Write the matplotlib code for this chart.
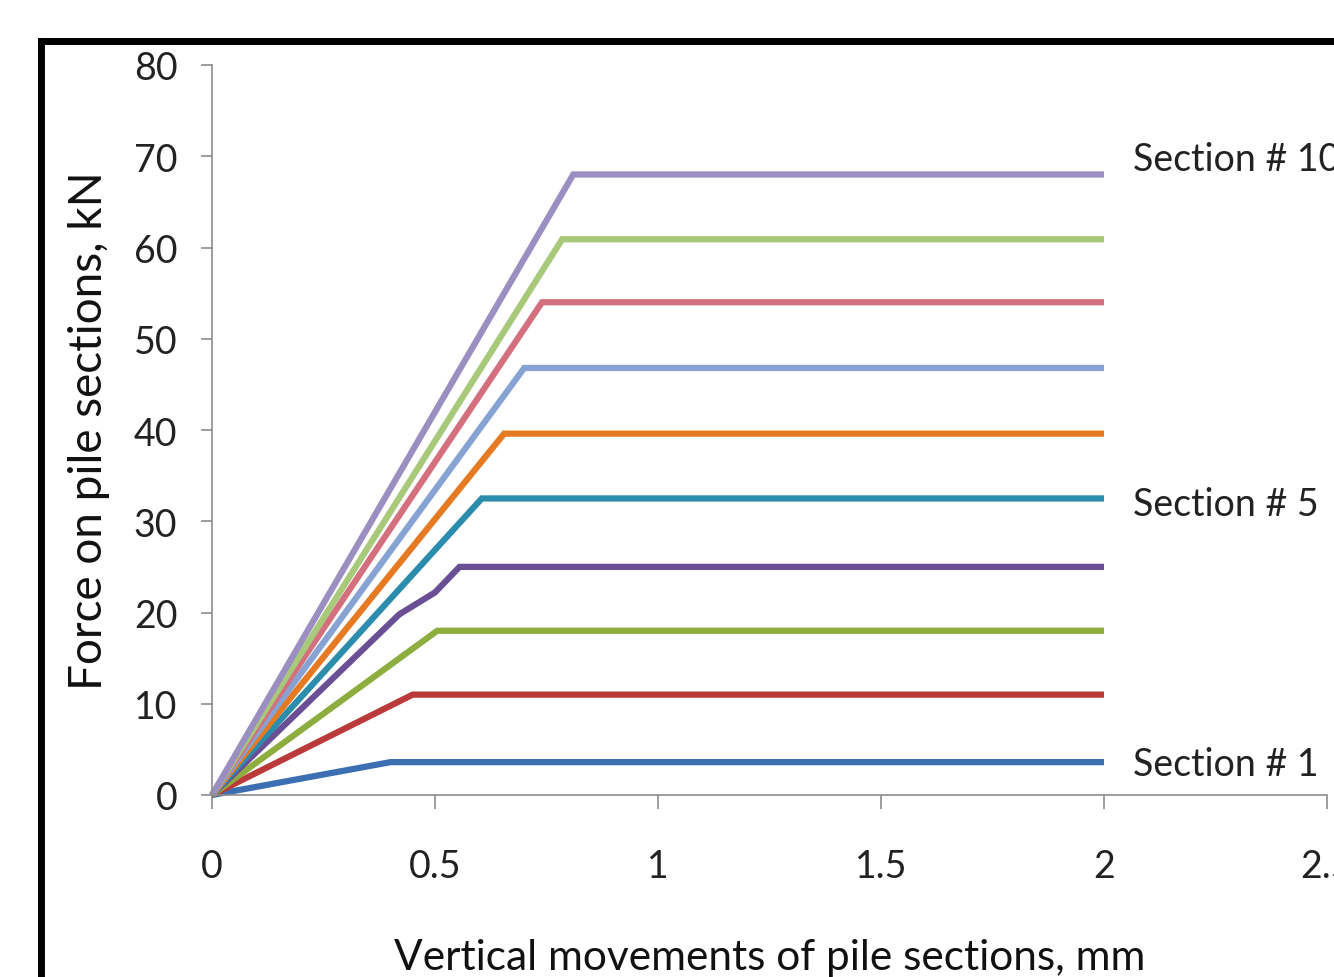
import matplotlib
matplotlib.use("Agg")
import matplotlib.pyplot as plt
from matplotlib.lines import Line2D

plt.rcParams['font.family'] = ['Lato', 'DejaVu Sans']

# Data: vertical movement (mm) vs force (kN) for pile sections 1..10
sec1_x = [0, 0.40, 2.0]
sec1_y = [0, 3.6, 3.6]
sec2_x = [0, 0.45, 2.0]
sec2_y = [0, 11.0, 11.0]
sec3_x = [0, 0.505, 2.0]
sec3_y = [0, 18.0, 18.0]
sec4_x = [0, 0.42, 0.50, 0.555, 2.0]
sec4_y = [0, 19.8, 22.2, 25.0, 25.0]
sec5_x = [0, 0.605, 2.0]
sec5_y = [0, 32.5, 32.5]
sec6_x = [0, 0.655, 2.0]
sec6_y = [0, 39.6, 39.6]
sec7_x = [0, 0.70, 2.0]
sec7_y = [0, 46.8, 46.8]
sec8_x = [0, 0.74, 2.0]
sec8_y = [0, 54.0, 54.0]
sec9_x = [0, 0.785, 2.0]
sec9_y = [0, 60.9, 60.9]
sec10_x = [0, 0.81, 2.0]
sec10_y = [0, 68.0, 68.0]

series = [
    (sec1_x, sec1_y, '#3b6fb2'),
    (sec2_x, sec2_y, '#b93a38'),
    (sec3_x, sec3_y, '#8dae3f'),
    (sec4_x, sec4_y, '#6a4f95'),
    (sec5_x, sec5_y, '#2b8dab'),
    (sec6_x, sec6_y, '#e57a22'),
    (sec7_x, sec7_y, '#86a3d3'),
    (sec8_x, sec8_y, '#d4707e'),
    (sec9_x, sec9_y, '#a8c87a'),
    (sec10_x, sec10_y, '#9a8fc0'),
]

labels = ['Section # 10', 'Section # 5', 'Section # 1']
label_x = [2.065, 2.065, 2.065]
label_y = [69.7, 31.9, 3.4]

xticks = [0, 0.5, 1, 1.5, 2, 2.5]
xticklabels = ['0', '0.5', '1', '1.5', '2', '2.5']
yticks = [0, 10, 20, 30, 40, 50, 60, 70, 80]

W, H = 1334, 978
fig = plt.figure(figsize=(W / 100, H / 100), dpi=100)
ax = fig.add_axes([212 / W, 1 - 796 / H, (1327 - 212) / W, (796 - 66) / H])

for xs, ys, c in series:
    ax.plot(xs, ys, color=c, lw=4.5, solid_joinstyle='miter', solid_capstyle='butt', clip_on=False)

ax.set_xlim(0, 2.5)
ax.set_ylim(0, 80)
ax.set_xticks(xticks)
ax.set_xticklabels(xticklabels)
ax.set_yticks(yticks)

for s in ['top', 'right']:
    ax.spines[s].set_visible(False)
for s in ['left', 'bottom']:
    ax.spines[s].set_color('#8c8c8c')
    ax.spines[s].set_linewidth(1.2)

ax.tick_params(axis='y', direction='out', length=8, width=1.2, color='#8c8c8c',
               labelsize=27, pad=17, labelcolor='#222222')
ax.tick_params(axis='x', direction='out', length=10, width=1.2, color='#8c8c8c',
               labelsize=27, pad=28, labelcolor='#222222')

ax.set_xlabel('Vertical movements of pile sections, mm', fontsize=30.5, color='#111111', labelpad=39)
ax.set_ylabel('Force on pile sections, kN', fontsize=33, color='#111111', labelpad=17)

for t, x, y in zip(labels, label_x, label_y):
    ax.text(x, y, t, fontsize=27, color='#222222', va='center', ha='left', clip_on=False)

# black frame around chart area
fig.add_artist(Line2D([40.5 / W, 40.5 / W], [-0.05, 1 - 41.5 / H], transform=fig.transFigure,
                      color='black', lw=5, solid_capstyle='projecting'))
fig.add_artist(Line2D([40.5 / W, 1.05], [1 - 41.5 / H, 1 - 41.5 / H], transform=fig.transFigure,
                      color='black', lw=5, solid_capstyle='projecting'))

fig.savefig('out.png', dpi=100)
